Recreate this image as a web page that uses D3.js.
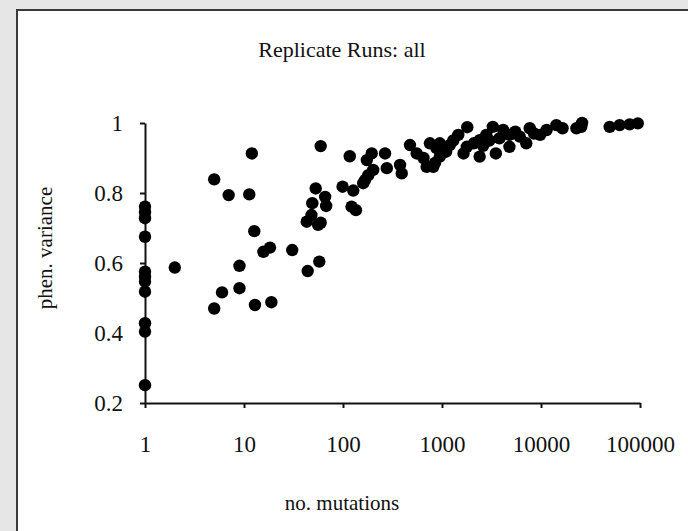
<!DOCTYPE html>
<html>
<head>
<meta charset="utf-8">
<script src="https://cdn.jsdelivr.net/npm/d3@7"></script>
<style>
  html, body { margin: 0; padding: 0; background: #e6e6e6; }
  svg { display: block; }
  text { font-family: "Liberation Serif", "Times New Roman", serif; fill: #111; }
</style>
</head>
<body>
<script>
// data: number of mutations vs phenotypic variance
let mutations = [1, 1, 1, 1, 1, 1, 1, 1, 1, 1, 1,
  2, 5, 5, 6, 7, 9, 9, 11.3, 12, 12.7, 12.9, 15.7, 18.3, 18.9, 30.7,
  44, 43, 48, 49, 53, 56, 59.5, 57.6, 59.5, 66, 67.6,
  99, 117, 127, 122, 135, 195, 174, 266, 167, 180, 202, 160, 277, 377, 392,
  475, 555, 700, 815, 755, 950, 880, 1100, 950, 1200, 1460, 1650, 850,
  1800, 2400, 3500, 4800, 3260, 4150, 2800, 2400, 1780, 2100, 6100, 7700,
  7100, 9800, 14300, 22800, 4800, 3800, 11400,
  16500, 25500, 26000, 49400, 62300, 78600, 95000, 3000, 5500, 8500, 2600, 1300, 650];
let variance = [0.761, 0.728, 0.675, 0.575, 0.56, 0.547, 0.518, 0.428, 0.404, 0.251, 0.745,
  0.587, 0.839, 0.47, 0.516, 0.794, 0.592, 0.528, 0.796, 0.913, 0.691, 0.48, 0.632, 0.644, 0.488, 0.637,
  0.577, 0.718, 0.737, 0.771, 0.813, 0.709, 0.715, 0.604, 0.934, 0.789, 0.763,
  0.818, 0.905, 0.807, 0.761, 0.751, 0.913, 0.894, 0.913, 0.837, 0.851, 0.866, 0.828, 0.871, 0.88, 0.856,
  0.937, 0.913, 0.875, 0.875, 0.942, 0.942, 0.928, 0.918, 0.904, 0.937, 0.966, 0.913, 0.886,
  0.988, 0.904, 0.913, 0.932, 0.989, 0.98, 0.966, 0.951, 0.932, 0.942, 0.961, 0.985,
  0.942, 0.966, 0.994, 0.985, 0.966, 0.956, 0.98,
  0.985, 0.989, 1.0, 0.989, 0.994, 0.996, 0.999, 0.95, 0.975, 0.97, 0.935, 0.95, 0.9];
let xTicks = [1, 10, 100, 1000, 10000, 100000];
let yTicks = [0.2, 0.4, 0.6, 0.8, 1];

let width = 688, height = 531;

let svg = d3.select("body").append("svg")
    .attr("width", width)
    .attr("height", height);

// white card with dark edge
svg.append("rect")
    .attr("x", 17).attr("y", 10)
    .attr("width", 720).attr("height", 560)
    .attr("fill", "#fff")
    .attr("stroke", "#3a3a3a")
    .attr("stroke-width", 2);

let x = d3.scaleLog().domain([1, 100000]).range([145, 640]);
let y = d3.scaleLinear().domain([0.2, 1]).range([403, 123]);

let xAxis = svg.append("g")
    .attr("transform", "translate(0,403)")
    .call(d3.axisBottom(x).tickValues(xTicks).tickFormat(d3.format("d"))
        .tickSize(5).tickPadding(28).tickSizeOuter(0));

let yAxis = svg.append("g")
    .attr("transform", "translate(145,0)")
    .call(d3.axisLeft(y).tickValues(yTicks).tickFormat(d => d == 1 ? "1" : d3.format(".1f")(d))
        .tickSize(5).tickPadding(17).tickSizeOuter(0));

[xAxis, yAxis].forEach(g => {
    g.select(".domain").attr("stroke", "#111").attr("stroke-width", 2);
    g.selectAll(".tick line").attr("stroke", "#111").attr("stroke-width", 2);
    g.selectAll("text").attr("font-size", 23)
        .attr("font-family", "Liberation Serif").attr("fill", "#111");
});

svg.append("g").selectAll("circle")
    .data(mutations)
    .join("circle")
    .attr("cx", d => x(d))
    .attr("cy", (d, i) => y(variance[i]))
    .attr("r", 6.2)
    .attr("fill", "#000");

svg.append("text")
    .attr("x", 342).attr("y", 57)
    .attr("text-anchor", "middle")
    .attr("font-size", 22)
    .text("Replicate Runs: all");

svg.append("text")
    .attr("x", 342).attr("y", 510)
    .attr("text-anchor", "middle")
    .attr("font-size", 21)
    .text("no. mutations");

svg.append("text")
    .attr("transform", "translate(52,248) rotate(-90)")
    .attr("text-anchor", "middle")
    .attr("font-size", 21)
    .text("phen. variance");
</script>
</body>
</html>
